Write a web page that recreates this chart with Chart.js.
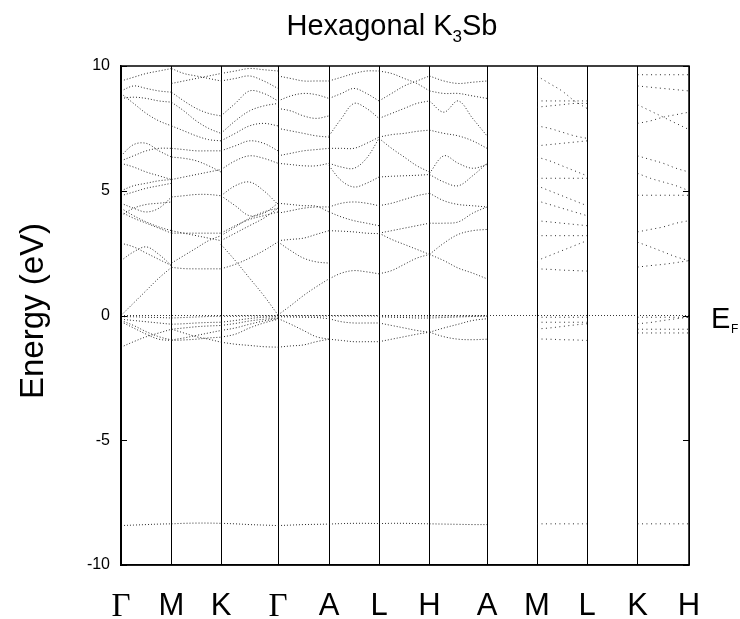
<!DOCTYPE html>
<html>
<head>
<meta charset="utf-8">
<script src="https://cdn.jsdelivr.net/npm/chart.js@4"></script>
<style>
  html, body { margin: 0; padding: 0; background: #fff; }
  #wrap { width: 740px; height: 619px; position: relative; }
</style>
</head>
<body>
<div id="wrap"><canvas id="bands" width="740" height="619"></canvas></div>
<script>
// high-symmetry points along the path and their positions (k-distance)
var kLabels = ['Γ', 'M', 'K', 'Γ', 'A', 'L', 'H', 'A', 'M', 'L', 'K', 'H'];
var kPos = [0, 1.01, 2.0, 3.14, 4.16, 5.16, 6.17, 7.32, 8.32, 9.32, 10.33, 11.36];
var yTicks = [-10, -5, 0, 5, 10];
var fermiLevel = 0;

// band energies (eV), sampled at 5 evenly spaced points per segment
var segGM = [
    [0.0, 0.5, 1.0, 1.5, 1.93], [2.9, 2.75, 2.5, 2.25, 2.0], [2.2, 2.55, 2.75, 2.45, 2.0],
    [4.15, 3.9, 3.7, 3.5, 3.3], [4.3, 4.0, 3.75, 3.55, 3.4], [4.0, 4.3, 4.45, 4.5, 4.55],
    [4.5, 4.3, 4.15, 4.3, 4.75], [4.8, 4.95, 5.1, 5.2, 5.3], [5.0, 5.2, 5.3, 5.4, 5.45],
    [6.1, 5.95, 5.75, 5.6, 5.45], [6.4, 6.85, 6.9, 6.6, 6.35], [6.2, 6.4, 6.6, 6.7, 6.7],
    [8.9, 8.5, 8.1, 7.8, 7.6], [8.7, 8.75, 8.7, 8.6, 8.55], [9.4, 9.55, 9.7, 9.8, 9.9],
    [9.0, 9.2, 9.1, 9.0, 8.95],
    [-0.05, -0.05, -0.07, -0.08, -0.1], [-0.15, -0.2, -0.25, -0.3, -0.35],
    [-0.2, -0.4, -0.65, -0.85, -0.98], [-0.25, -0.5, -0.75, -0.95, -1.0],
    [-1.27, -1.05, -0.85, -0.7, -0.55],
    [-8.42, -8.4, -8.38, -8.36, -8.35]
];
var segMK = [
    [1.93, 1.88, 1.87, 1.87, 1.87], [2.1, 2.4, 2.7, 3.0, 3.2], [3.4, 3.3, 3.2, 3.1, 3.0],
    [3.3, 3.3, 3.3, 3.3, 3.3], [4.75, 4.8, 4.85, 4.85, 4.8], [5.45, 5.55, 5.65, 5.75, 5.85],
    [6.35, 6.3, 6.2, 6.0, 5.75], [6.7, 6.65, 6.6, 6.6, 6.6], [7.6, 7.4, 7.2, 7.05, 7.0],
    [8.55, 8.2, 7.8, 7.5, 7.3], [8.95, 8.6, 8.3, 8.1, 8.0], [9.9, 9.7, 9.6, 9.5, 9.4],
    [9.3, 9.4, 9.5, 9.6, 9.7],
    [-0.1, -0.08, -0.06, -0.04, -0.03], [-0.35, -0.33, -0.3, -0.28, -0.27],
    [-0.55, -0.5, -0.45, -0.42, -0.4], [-0.98, -0.9, -0.8, -0.7, -0.6],
    [-1.0, -0.98, -0.95, -0.9, -0.87], [-0.55, -0.7, -0.85, -0.95, -1.07],
    [-8.35, -8.33, -8.32, -8.32, -8.33]
];
var segKG = [
    [2.85, 2.2, 1.5, 0.8, 0.02], [1.87, 2.05, 2.3, 2.6, 2.95], [3.2, 3.55, 3.9, 4.15, 4.3],
    [3.3, 3.6, 3.85, 4.0, 4.15], [3.0, 3.3, 3.6, 3.9, 4.3], [4.8, 5.2, 5.35, 5.0, 4.45],
    [4.8, 4.4, 4.0, 4.1, 4.5], [5.85, 6.2, 6.4, 6.3, 6.1], [6.6, 6.8, 7.0, 6.9, 6.6],
    [7.0, 7.3, 7.6, 7.7, 7.6], [7.3, 7.8, 8.2, 8.4, 8.5], [8.0, 8.5, 9.0, 8.9, 8.6],
    [9.4, 9.5, 9.6, 9.4, 9.1], [9.7, 9.8, 9.9, 9.85, 9.8],
    [-0.03, -0.03, -0.02, -0.02, -0.02], [-0.27, -0.2, -0.12, -0.07, -0.05],
    [-0.4, -0.32, -0.22, -0.15, -0.1], [-0.6, -0.5, -0.35, -0.22, -0.12],
    [-0.87, -0.75, -0.5, -0.3, -0.15], [-1.07, -1.15, -1.2, -1.25, -1.27],
    [-8.33, -8.35, -8.38, -8.4, -8.42]
];
var segGA = [
    [0.02, 0.4, 0.8, 1.15, 1.47], [2.95, 2.6, 2.3, 2.15, 2.1], [3.0, 3.05, 3.1, 3.25, 3.4],
    [4.1, 4.2, 4.3, 4.35, 4.35], [4.5, 4.45, 4.4, 4.38, 4.15], [6.1, 6.05, 6.0, 6.0, 6.1],
    [6.4, 6.5, 6.6, 6.65, 6.7], [7.5, 7.4, 7.3, 7.2, 7.15], [8.3, 8.2, 8.0, 7.9, 8.0],
    [8.6, 8.8, 8.9, 8.85, 8.7], [9.6, 9.5, 9.4, 9.4, 9.4],
    [-0.02, -0.02, -0.02, -0.02, -0.02], [-0.05, -0.06, -0.07, -0.08, -0.13],
    [-0.12, -0.35, -0.6, -0.85, -0.95], [-1.27, -1.22, -1.18, -1.05, -0.95],
    [-8.42, -8.4, -8.38, -8.37, -8.36]
];
var segAL = [
    [1.47, 1.7, 1.8, 1.75, 1.67], [3.4, 3.38, 3.35, 3.3, 3.28], [4.35, 4.5, 4.55, 4.5, 4.4],
    [4.15, 3.95, 3.8, 3.7, 3.6], [6.0, 5.4, 5.15, 5.3, 5.55], [6.1, 5.95, 5.9, 6.3, 7.1],
    [6.7, 6.7, 6.7, 6.9, 7.15], [7.2, 7.9, 8.5, 8.3, 7.9], [8.7, 8.9, 9.1, 8.9, 8.6],
    [9.4, 9.55, 9.7, 9.8, 9.8],
    [-0.02, -0.02, -0.02, -0.02, -0.02], [-0.13, -0.25, -0.3, -0.3, -0.3],
    [-0.95, -1.0, -1.05, -1.05, -1.05],
    [-8.36, -8.34, -8.33, -8.33, -8.34]
];
var segLH = [
    [1.67, 1.8, 2.05, 2.3, 2.45], [3.3, 3.05, 2.85, 2.65, 2.45], [3.3, 3.4, 3.5, 3.6, 3.7],
    [4.4, 4.5, 4.65, 4.8, 4.9], [5.55, 5.58, 5.6, 5.62, 5.65], [7.1, 6.7, 6.35, 6.0, 5.75],
    [7.15, 7.25, 7.3, 7.38, 7.43], [7.9, 8.1, 8.3, 8.5, 8.6], [8.6, 8.9, 9.2, 9.4, 9.6],
    [9.8, 9.7, 9.5, 9.3, 9.0],
    [-0.02, -0.02, -0.02, -0.02, -0.02], [-0.3, -0.4, -0.5, -0.6, -0.67],
    [-1.05, -0.95, -0.85, -0.75, -0.67], [-0.05, -0.07, -0.08, -0.1, -0.1],
    [-8.34, -8.33, -8.33, -8.34, -8.35]
];
var segHA = [
    [2.45, 2.2, 1.9, 1.7, 1.47], [2.45, 2.9, 3.25, 3.4, 3.45], [3.7, 3.7, 3.75, 4.1, 4.35],
    [4.9, 4.6, 4.45, 4.4, 4.35], [5.65, 5.35, 5.2, 5.6, 6.1], [5.7, 6.4, 6.1, 5.9, 6.05],
    [7.43, 7.3, 7.2, 7.0, 6.7], [8.6, 8.15, 8.6, 7.9, 7.2], [9.0, 8.9, 8.9, 8.8, 8.7],
    [9.6, 9.4, 9.3, 9.35, 9.4],
    [-0.02, -0.02, -0.02, -0.02, -0.02], [-0.67, -0.5, -0.35, -0.2, -0.13],
    [-0.67, -0.85, -0.95, -0.97, -0.95], [-0.1, -0.08, -0.06, -0.04, -0.02],
    [-8.35, -8.36, -8.37, -8.38, -8.38]
];
var segML = [
    [9.6, 9.3, 9.0, 8.6, 8.3], [8.6, 8.6, 8.6, 8.6, 8.6], [8.35, 8.4, 8.45, 8.5, 8.5],
    [7.6, 7.5, 7.35, 7.2, 7.1], [6.8, 6.85, 6.9, 6.95, 7.0], [6.35, 6.2, 6.0, 5.8, 5.6],
    [5.5, 5.5, 5.5, 5.5, 5.5], [5.2, 5.0, 4.8, 4.6, 4.4], [4.6, 4.45, 4.3, 4.15, 4.0],
    [3.8, 3.75, 3.7, 3.65, 3.6], [3.2, 3.2, 3.2, 3.2, 3.2], [2.2, 2.4, 2.6, 2.8, 3.0],
    [1.87, 1.85, 1.82, 1.8, 1.78],
    [-0.07, -0.07, -0.07, -0.07, -0.07], [-0.27, -0.27, -0.27, -0.27, -0.27],
    [-0.54, -0.5, -0.44, -0.38, -0.33], [-0.94, -0.95, -0.97, -0.98, -1.0],
    [-8.35, -8.35, -8.35, -8.35, -8.35]
];
var segKH = [
    [9.65, 9.65, 9.65, 9.65, 9.65], [9.2, 9.15, 9.1, 9.05, 9.0], [8.45, 8.2, 7.95, 7.7, 7.45],
    [7.7, 7.8, 7.95, 8.05, 8.15], [6.4, 6.25, 6.1, 5.9, 5.75], [5.7, 5.5, 5.35, 5.2, 5.0],
    [4.82, 4.82, 4.82, 4.82, 4.82], [3.35, 3.45, 3.55, 3.7, 3.8], [2.94, 2.75, 2.55, 2.35, 2.2],
    [1.94, 2.0, 2.05, 2.12, 2.2],
    [-0.07, -0.07, -0.07, -0.07, -0.07], [-0.33, -0.28, -0.2, -0.13, -0.07],
    [-0.55, -0.55, -0.55, -0.55, -0.55], [-0.7, -0.7, -0.7, -0.7, -0.7],
    [-8.35, -8.35, -8.35, -8.35, -8.35]
];

// which segment (start node index) each band set belongs to; A-M and L-K are empty
var segments = [
    { from: 0, bands: segGM }, { from: 1, bands: segMK }, { from: 2, bands: segKG },
    { from: 3, bands: segGA }, { from: 4, bands: segAL }, { from: 5, bands: segLH },
    { from: 6, bands: segHA }, { from: 8, bands: segML, sparse: true },
    { from: 10, bands: segKH, sparse: true }
];

function segmentPoints(seg) {
    var k0 = kPos[seg.from], k1 = kPos[seg.from + 1], pts = [];
    seg.bands.forEach(function (b) {
        for (var j = 0; j < b.length; j++) {
            pts.push({ x: k0 + (k1 - k0) * j / (b.length - 1), y: b[j] });
        }
        pts.push({ x: k1, y: null }); // break between bands
    });
    return pts;
}

var datasets = segments.map(function (seg) {
    return {
        data: segmentPoints(seg),
        borderColor: 'rgba(20,20,20,0.9)',
        borderWidth: 1,
        borderDash: seg.sparse ? [1, 3.5] : [1, 2],
        pointRadius: 0,
        tension: 0.35,
        spanGaps: false
    };
});
datasets.push({
    data: [{ x: kPos[0], y: fermiLevel }, { x: kPos[kPos.length - 1], y: fermiLevel }],
    borderColor: 'rgba(20,20,20,0.85)',
    borderWidth: 1,
    borderDash: [1, 2],
    pointRadius: 0
});

var sans = '"Liberation Sans", Arial, sans-serif';

var decorations = {
    id: 'decorations',
    afterDraw: function (chart) {
        var c = chart.ctx, a = chart.chartArea, y = chart.scales.y;
        c.save();
        c.strokeStyle = '#000';
        c.lineWidth = 1.5;
        c.strokeRect(a.left, a.top, a.right - a.left, a.bottom - a.top);
        // inward ticks on both sides
        c.lineWidth = 1;
        yTicks.forEach(function (v) {
            var py = Math.round(y.getPixelForValue(v)) + 0.5;
            c.beginPath();
            c.moveTo(a.left, py); c.lineTo(a.left + 6, py);
            c.moveTo(a.right, py); c.lineTo(a.right - 6, py);
            c.stroke();
        });
        c.fillStyle = '#000';
        // title with subscript
        var big = '29px ' + sans, small = '17px ' + sans;
        c.font = big;
        var w1 = c.measureText('Hexagonal K').width, w3 = c.measureText('Sb').width;
        c.font = small;
        var w2 = c.measureText('3').width;
        var x0 = 392 - (w1 + w2 + w3) / 2;
        c.textBaseline = 'alphabetic';
        c.textAlign = 'left';
        c.font = big; c.fillText('Hexagonal K', x0, 35);
        c.font = small; c.fillText('3', x0 + w1, 42);
        c.font = big; c.fillText('Sb', x0 + w1 + w2, 35);
        // y axis title
        c.save();
        c.translate(34, 311);
        c.rotate(-Math.PI / 2);
        c.textAlign = 'center';
        c.textBaseline = 'middle';
        c.font = '33px ' + sans;
        c.fillText('Energy (eV)', 0, 0);
        c.restore();
        // Fermi level label
        var pf = y.getPixelForValue(fermiLevel);
        c.font = '29px ' + sans;
        c.fillText('E', 711, pf + 12);
        c.font = '12px ' + sans;
        c.fillText('F', 731, pf + 17);
        c.restore();
    }
};

new Chart(document.getElementById('bands'), {
    type: 'line',
    data: { datasets: datasets },
    options: {
        responsive: false,
        animation: false,
        layout: { padding: { left: 0, right: 51, top: 66, bottom: 0 } },
        plugins: { legend: { display: false }, tooltip: { enabled: false }, title: { display: false } },
        scales: {
            x: {
                type: 'linear',
                min: kPos[0],
                max: kPos[kPos.length - 1],
                afterBuildTicks: function (axis) {
                    axis.ticks = kPos.map(function (v) { return { value: v }; });
                },
                afterFit: function (axis) { axis.height = 54; },
                grid: { color: '#000', lineWidth: 1, drawTicks: false },
                border: { color: '#000', width: 1.5 },
                ticks: {
                    autoSkip: false,
                    maxRotation: 0,
                    padding: 23,
                    color: '#000',
                    font: function (ctx) {
                        var lbl = ctx.tick ? kLabels[ctx.index] : '';
                        return lbl === 'Γ' ? { family: '"Liberation Serif", serif', size: 33 }
                                           : { family: sans, size: 31 };
                    },
                    callback: function (v, i) { return kLabels[i]; }
                }
            },
            y: {
                min: -10,
                max: 10,
                afterBuildTicks: function (axis) {
                    axis.ticks = yTicks.map(function (v) { return { value: v }; });
                },
                afterFit: function (axis) { axis.width = 121; },
                grid: { display: false },
                border: { color: '#000', width: 1.5 },
                ticks: { color: '#000', padding: 3, font: { family: sans, size: 16 } }
            }
        }
    },
    plugins: [decorations]
});
</script>
</body>
</html>
